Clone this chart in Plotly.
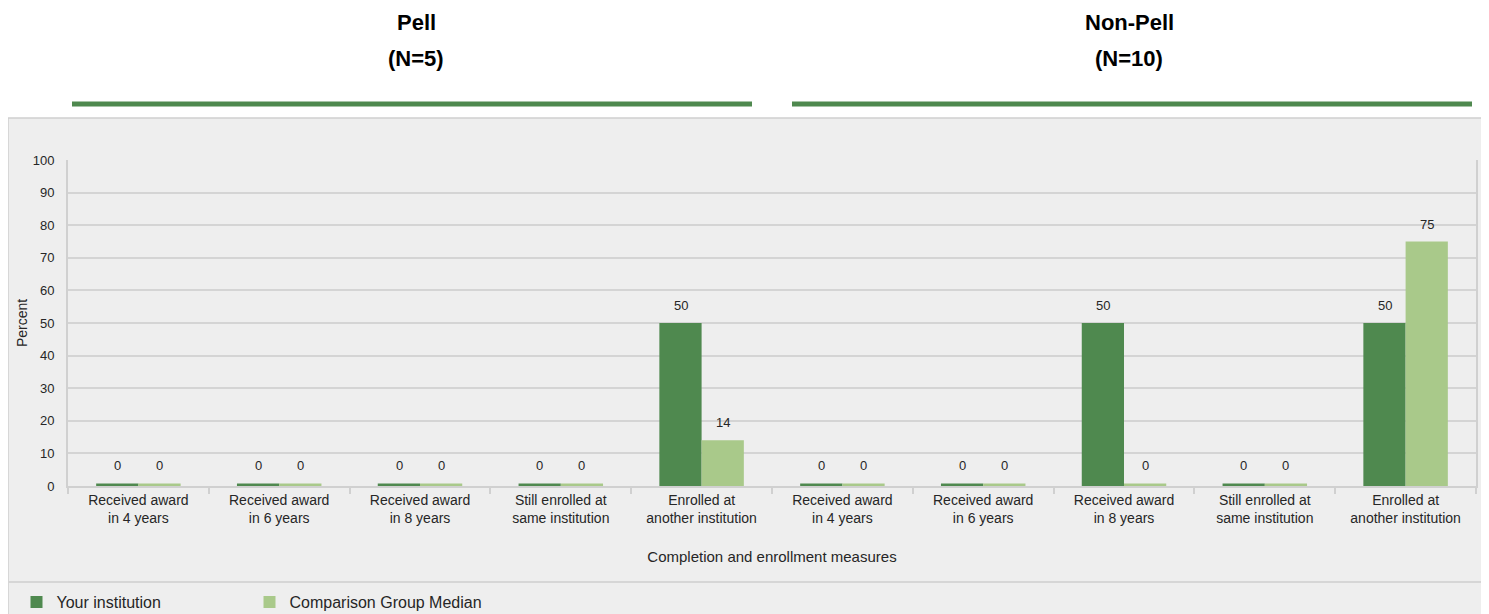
import plotly.graph_objects as go

# ---- data ----
groups = ["Pell", "Non-Pell"]
group_n = ["(N=5)", "(N=10)"]
measures = ["Received award<br>in 4 years", "Received award<br>in 6 years",
            "Received award<br>in 8 years", "Still enrolled at<br>same institution",
            "Enrolled at<br>another institution"]
your_institution = [0, 0, 0, 0, 50, 0, 0, 50, 0, 50]
comparison_median = [0, 0, 0, 0, 14, 0, 0, 0, 0, 75]
series_names = ["Your institution", "Comparison Group Median"]
y_ticks = [0, 10, 20, 30, 40, 50, 60, 70, 80, 90, 100]

DARK = "#4f894f"
LIGHT = "#a9c98a"
GRID = "#d4d4d4"
FONT = "Liberation Sans, Arial, sans-serif"

ids = [f"{g}|{i}" for g in groups for i in range(len(measures))]
labels = measures * len(groups)

def disp(vals):
    # zero values are drawn as a hairline bar, as in the reference
    return [v if v > 0 else 0.8 for v in vals]

fig = go.Figure()
series = [(series_names[0], your_institution, DARK, -21),
          (series_names[1], comparison_median, LIGHT, 21)]
for name, vals, col, _ in series:
    fig.add_trace(go.Bar(
        x=ids, y=disp(vals), name=name, marker=dict(color=col, line=dict(width=0)),
        customdata=vals, hoverinfo="skip"))

# page body adds an 8px offset, so the figure is 8px smaller and coordinates shifted
OFF = 8
W, H = 1489 - OFF, 614 - OFF
L, R, T, B = 68 - OFF, 1476 - OFF, 160 - OFF, 486 - OFF
def px(x): return (x - OFF - L) / (R - L)
def py(y): return (B - (y - OFF)) / (B - T)

shapes = [
    dict(type="rect", xref="paper", yref="paper", x0=px(8), x1=px(1487), y0=py(620), y1=py(118),
         fillcolor="#eeeeee", line=dict(color="#d0d0d0", width=1.5), layer="below"),
    dict(type="line", xref="paper", yref="paper", x0=px(8), x1=px(1487), y0=py(582), y1=py(582),
         line=dict(color="#d6d6d6", width=2), layer="below"),
    dict(type="line", xref="paper", yref="paper", x0=px(72), x1=px(752), y0=py(104), y1=py(104),
         line=dict(color=DARK, width=5)),
    dict(type="line", xref="paper", yref="paper", x0=px(792), x1=px(1472), y0=py(104), y1=py(104),
         line=dict(color=DARK, width=5)),
]
annotations = []
for g, n, cx in [(groups[0], group_n[0], 416), (groups[1], group_n[1], 1129)]:
    annotations.append(dict(text=f"<b>{g}</b>", xref="paper", yref="paper", x=px(cx), y=py(22),
                            showarrow=False, font=dict(size=22, color="#000", family=FONT),
                            xanchor="center", yanchor="middle"))
    annotations.append(dict(text=f"<b>{n}</b>", xref="paper", yref="paper", x=px(cx), y=py(58),
                            showarrow=False, font=dict(size=22, color="#000", family=FONT),
                            xanchor="center", yanchor="middle"))
# value labels above each bar
for name, vals, col, shift in series:
    for cid, v, d in zip(ids, vals, disp(vals)):
        annotations.append(dict(text=str(v), x=cid, y=d, xref="x", yref="y", showarrow=False,
                                xanchor="center", yanchor="bottom", xshift=shift, yshift=8,
                                font=dict(size=13, color="#262626", family=FONT)))

fig.update_layout(
    width=W, height=H,
    margin=dict(l=L, r=W - R, t=T, b=H - B, autoexpand=False),
    paper_bgcolor="white", plot_bgcolor="#eeeeee",
    barmode="group", bargap=0.4, bargroupgap=0,
    font=dict(family=FONT, size=13, color="#262626"),
    shapes=shapes, annotations=annotations,
    showlegend=True,
    legend=dict(orientation="h", x=px(16.5), y=py(602), xanchor="left", yanchor="middle",
                bgcolor="rgba(0,0,0,0)", font=dict(size=16, color="#262626"),
                entrywidth=188, entrywidthmode="pixels", itemclick=False, itemdoubleclick=False),
    xaxis=dict(type="category", tickvals=ids, ticktext=labels, tickson="boundaries",
               ticks="outside", ticklen=6, tickcolor="#d0d0d0", tickwidth=2, automargin=False,
               showline=True, linecolor="#d0d0d0", linewidth=2, showgrid=False,
               tickfont=dict(size=14, color="#262626"),
               title=dict(text="Completion and enrollment measures", standoff=26,
                          font=dict(size=15, color="#262626"))),
    yaxis=dict(range=[0, 100], tickvals=y_ticks, showgrid=True, gridcolor=GRID, gridwidth=2,
               showline=True, mirror=True, linecolor="#d0d0d0", linewidth=2, automargin=False,
               zeroline=False, ticks="", ticklabelstandoff=9,
               tickfont=dict(size=13, color="#262626"),
               title=dict(text="Percent", standoff=2, font=dict(size=14, color="#262626"))),
)

fig.write_html("out.html")
